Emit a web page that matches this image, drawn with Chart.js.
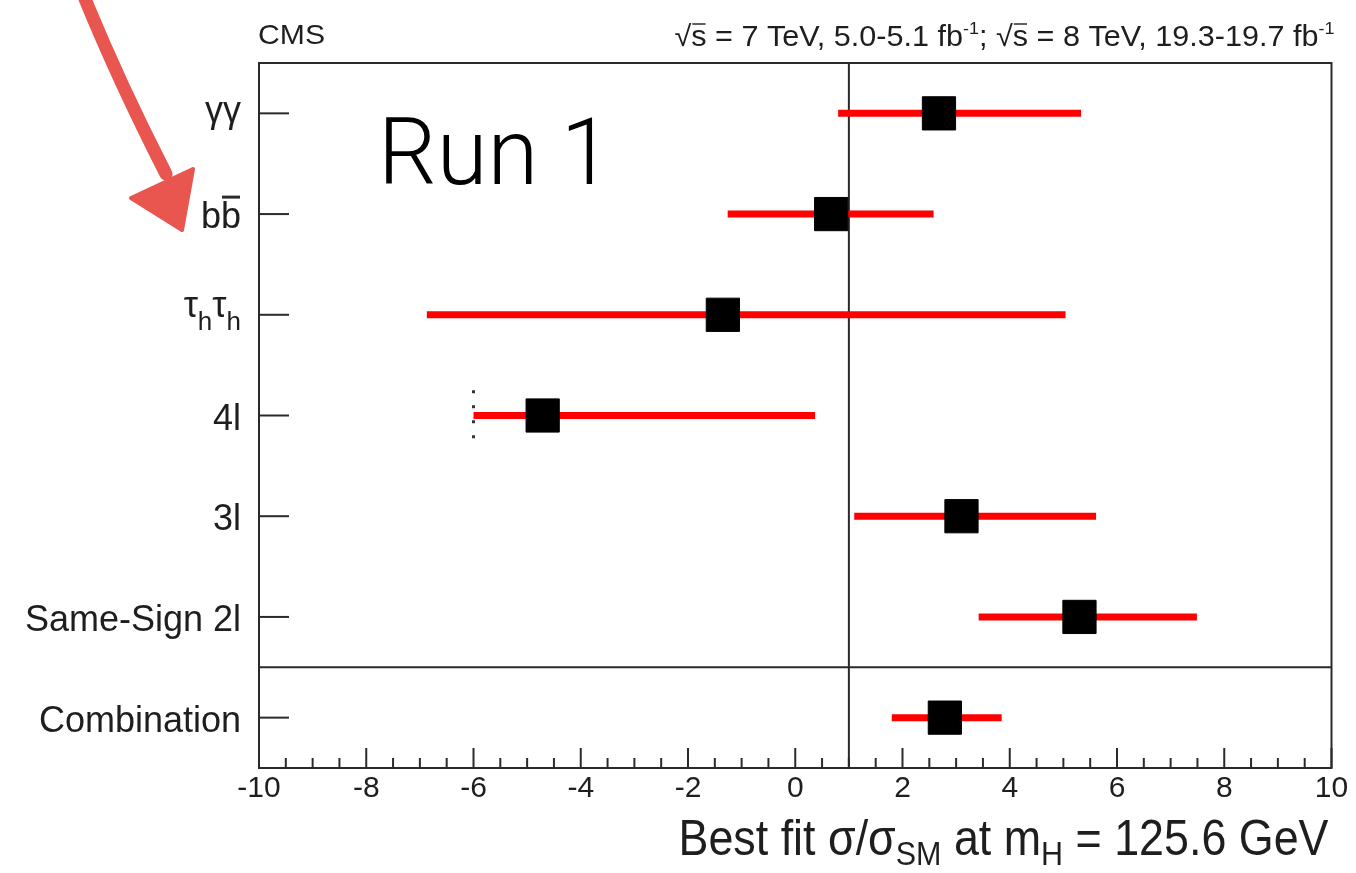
<!DOCTYPE html>
<html>
<head>
<meta charset="utf-8">
<title>Best fit signal strength per channel</title>
<script src="https://cdn.jsdelivr.net/npm/chart.js@4.4.0/dist/chart.umd.min.js"></script>
<style>
  html, body { margin: 0; padding: 0; background: #fff; }
  #wrap { width: 1356px; height: 873px; }
</style>
</head>
<body>
<div id="wrap"><canvas id="fit-chart" width="1356" height="873"></canvas></div>
<script>
// channel names, top to bottom (ₕ = subscript h, U+0304 = bar over the preceding letter)
const channels = ['γγ', 'bb\u0304', 'τₕτₕ', '4l', '3l', 'Same-Sign 2l', 'Combination'];
const rowPos = [0.5, 1.5, 2.5, 3.5, 4.5, 5.5, 6.5];
// best fit sigma/sigma_SM with its interval
const bestFit = [2.68, 0.67, -1.35, -4.71, 3.10, 5.30, 2.79];
const errLow = [0.80, -1.26, -6.87, -6.00, 1.10, 3.42, 1.80];
const errHigh = [5.33, 2.58, 5.04, 0.37, 5.61, 7.49, 3.85];
const fourLBound = -6;
const xTicks = [-10, -8, -6, -4, -2, 0, 2, 4, 6, 8, 10];
const smLine = 1;
const separatorPos = 6;

const frameColor = '#2a2a2a';
const textColor = '#1e1e1e';
const sans = '"Liberation Sans", Arial, Helvetica, sans-serif';

function line(ctx, x1, y1, x2, y2) {
  ctx.beginPath();
  ctx.moveTo(x1, y1);
  ctx.lineTo(x2, y2);
  ctx.stroke();
}

// draws a list of text pieces on one baseline; optionally squeezed to a width
function drawRich(ctx, segs, x, baseline, align, fitWidth) {
  let total = 0;
  segs.forEach(s => {
    ctx.font = s.font;
    s.w = ctx.measureText(s.t).width;
    total += s.w;
  });
  const sx = fitWidth ? fitWidth / total : 1;
  const start = align === 'right' ? x - total * sx : x;
  ctx.save();
  ctx.translate(start, baseline);
  ctx.scale(sx, 1);
  ctx.textAlign = 'left';
  ctx.textBaseline = 'alphabetic';
  let cx = 0;
  segs.forEach(s => {
    ctx.font = s.font;
    ctx.fillText(s.t, cx, s.dy || 0);
    if (s.over) {
      ctx.lineWidth = s.overWidth || 2;
      line(ctx, cx + 1, (s.dy || 0) - s.over, cx + s.w - 1, (s.dy || 0) - s.over);
    }
    cx += s.w;
  });
  ctx.restore();
}

// turn a channel name into drawable pieces
function labelSegments(name, size) {
  const segs = [];
  const hasSub = name.includes('ₕ');
  const chars = Array.from(name);
  for (let i = 0; i < chars.length; i++) {
    const c = chars[i];
    if (c === '\u0304') continue;
    if (c === 'ₕ') {
      segs.push({ t: 'h', font: `${Math.round(size * 0.72)}px ${sans}`, dy: 1 });
      continue;
    }
    const greek = /[α-ω]/.test(c);
    const seg = { t: c, font: `${size}px ${sans}`, dy: 0 };
    if (greek) seg.dy = hasSub ? -12 : -5;
    if (chars[i + 1] === '\u0304') { seg.over = size * 0.86; seg.overWidth = 3; }
    segs.push(seg);
  }
  return segs;
}

const decorations = {
  id: 'decorations',
  beforeDatasetsDraw(chart) {
    const { ctx, chartArea: a, scales: { x } } = chart;
    ctx.save();
    ctx.strokeStyle = frameColor;
    ctx.lineWidth = 2;
    const xs = x.getPixelForValue(smLine);
    line(ctx, xs, a.top, xs, a.bottom);
    ctx.restore();
  },
  afterDraw(chart) {
    const { ctx, chartArea: a, scales: { x, y } } = chart;
    ctx.save();
    ctx.strokeStyle = frameColor;
    ctx.lineWidth = 2;
    ctx.strokeRect(a.left, a.top, a.right - a.left, a.bottom - a.top);

    const ys = y.getPixelForValue(separatorPos);
    line(ctx, a.left, ys, a.right, ys);

    // inward ticks on the bottom axis, minor every 0.5
    for (let v = x.min; v <= x.max + 1e-9; v += 0.5) {
      const px = x.getPixelForValue(v);
      const len = Math.abs(v % 2) < 1e-9 ? 20 : 10;
      line(ctx, px, a.bottom, px, a.bottom - len);
    }
    // channel ticks on the left axis
    rowPos.forEach(r => {
      const py = y.getPixelForValue(r);
      line(ctx, a.left, py, a.left + 30, py);
    });

    // channel names
    ctx.fillStyle = textColor;
    channels.forEach((name, i) => {
      const py = y.getPixelForValue(rowPos[i]);
      drawRich(ctx, labelSegments(name, 36), a.left - 18, py + 14, 'right');
    });

    // axis title
    const big = `50px ${sans}`;
    const small = `34px ${sans}`;
    drawRich(ctx, [
      { t: 'Best fit σ/σ', font: big },
      { t: 'SM', font: small, dy: 10 },
      { t: ' at m', font: big },
      { t: 'H', font: small, dy: 10 },
      { t: ' = 125.6 GeV', font: big }
    ], a.right - 3, 855, 'right', 650);

    // header line
    drawRich(ctx, [{ t: 'CMS', font: `28px ${sans}` }], a.left - 1, 44, 'left', 67);
    const hf = `29px ${sans}`;
    const hs = `17px ${sans}`;
    drawRich(ctx, [
      { t: '√', font: hf },
      { t: 's', font: hf, over: 22, overWidth: 1.5 },
      { t: ' = 7 TeV, 5.0-5.1 fb', font: hf },
      { t: '-1', font: hs, dy: -12 },
      { t: '; ', font: hf },
      { t: '√', font: hf },
      { t: 's', font: hf, over: 22, overWidth: 1.5 },
      { t: ' = 8 TeV, 19.3-19.7 fb', font: hf },
      { t: '-1', font: hs, dy: -12 }
    ], a.right + 3, 46, 'right', 660);

    // run label inside the frame
    ctx.fillStyle = '#000';
    drawRich(ctx, [{ t: 'Run 1', font: `300 92px Roboto, ${sans}` }], 378, 184, 'left', 234);

    // hand-drawn pointer towards the bb row
    const by = y.getPixelForValue(rowPos[1]);
    ctx.strokeStyle = '#e9554f';
    ctx.fillStyle = '#e9554f';
    ctx.lineWidth = 13;
    ctx.lineCap = 'round';
    ctx.beginPath();
    ctx.moveTo(83, -6);
    ctx.quadraticCurveTo(118, 80, 166, by - 40);
    ctx.stroke();
    ctx.lineJoin = 'round';
    ctx.lineWidth = 4;
    ctx.beginPath();
    ctx.moveTo(131, by - 16);
    ctx.lineTo(193, by - 45);
    ctx.lineTo(182, by + 16);
    ctx.closePath();
    ctx.fill();
    ctx.stroke();
    ctx.restore();
  }
};

const errorBars = channels.map((name, i) => ({
  label: name,
  data: [{ x: errLow[i], y: rowPos[i] }, { x: errHigh[i], y: rowPos[i] }],
  showLine: true,
  borderColor: '#ff0000',
  borderWidth: 7,
  borderCapStyle: 'butt',
  pointRadius: 0,
  order: 2
}));

const datasets = errorBars.concat([
  {
    label: '4l bound',
    data: [{ x: fourLBound, y: rowPos[3] - 0.25 }, { x: fourLBound, y: rowPos[3] + 0.25 }],
    showLine: true,
    borderColor: '#333',
    borderWidth: 3,
    borderDash: [3, 12],
    pointRadius: 0,
    order: 1
  },
  {
    label: 'Best fit',
    data: bestFit.map((v, i) => ({ x: v, y: rowPos[i] })),
    pointStyle: 'rect',
    pointRadius: 23.5,
    backgroundColor: '#000',
    borderColor: '#000',
    borderWidth: 1,
    order: 0
  }
]);

new Chart(document.getElementById('fit-chart'), {
  type: 'scatter',
  data: { datasets: datasets },
  options: {
    responsive: false,
    animation: false,
    events: [],
    layout: { padding: { left: 259, right: 23, top: 63, bottom: 0 } },
    plugins: { legend: { display: false }, tooltip: { enabled: false } },
    scales: {
      x: {
        type: 'linear',
        min: -10,
        max: 10,
        afterBuildTicks: scale => { scale.ticks = xTicks.map(v => ({ value: v })); },
        afterFit: scale => { scale.height = 105; },
        grid: { display: false, drawTicks: false },
        border: { display: false },
        ticks: {
          color: textColor,
          font: { family: 'Liberation Sans', size: 30 },
          padding: 3,
          maxRotation: 0,
          autoSkip: false
        }
      },
      y: {
        type: 'linear',
        min: 0,
        max: 7,
        reverse: true,
        display: false
      }
    }
  },
  plugins: [decorations]
});
</script>
</body>
</html>
